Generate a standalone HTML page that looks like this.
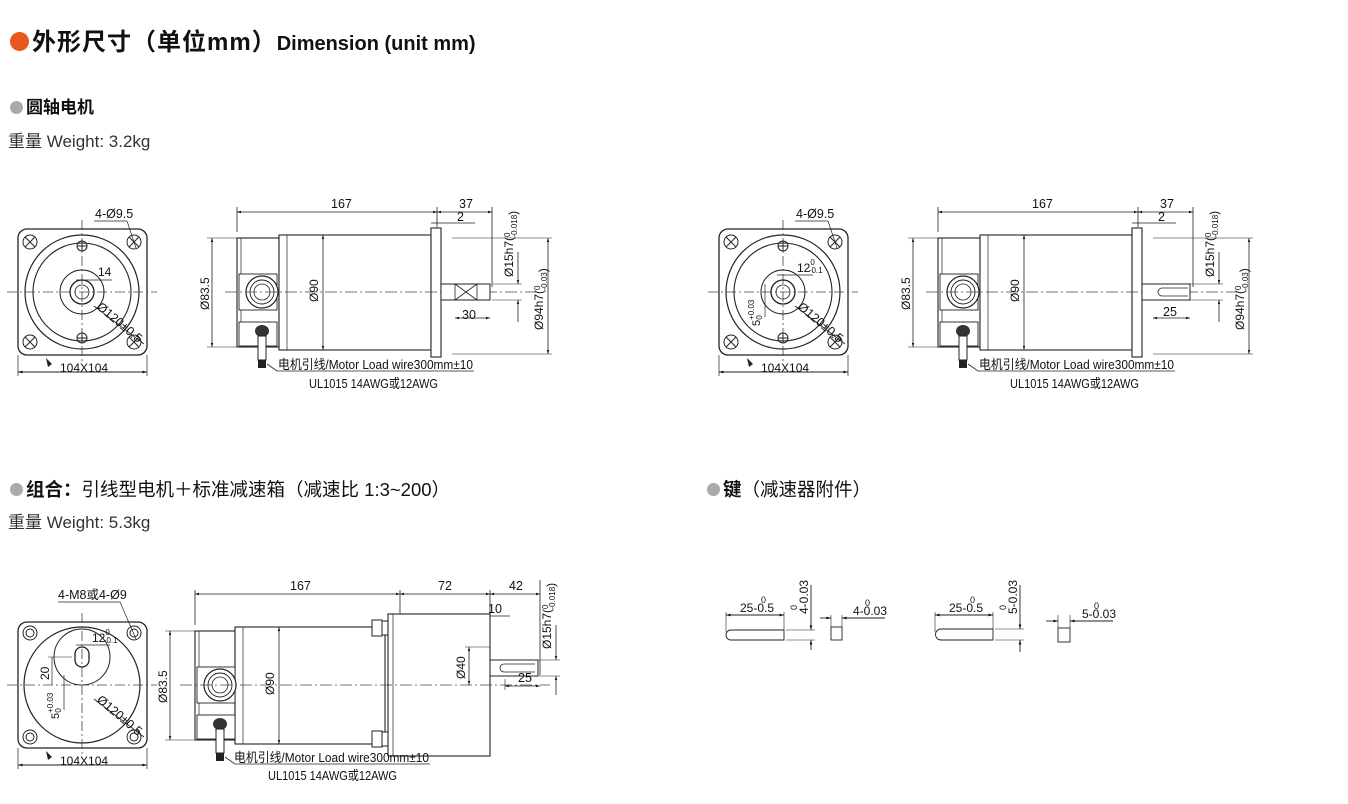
<!DOCTYPE html>
<html><head><meta charset="utf-8">
<style>
html,body{margin:0;padding:0;background:#fff;}
body{width:1348px;height:804px;position:relative;overflow:hidden;font-family:"Liberation Sans","Noto Sans CJK SC",sans-serif;color:#111;}
.t{position:absolute;white-space:nowrap;}
.d{display:inline-block;border-radius:50%;vertical-align:middle;}
svg{position:absolute;left:0;top:0;}
svg text{font-family:"Liberation Sans Narrow","Liberation Sans","Noto Sans CJK SC",sans-serif;fill:#111;}
</style></head><body>
<div class="t" style="left:10px;top:22px;font-size:24px;font-weight:bold;letter-spacing:1px;"><span class="d" style="width:19px;height:19px;background:#e8581c;margin-right:3px;margin-top:-4px"></span>外形尺寸（单位mm）<span style="font-size:20px;letter-spacing:0;">Dimension (unit mm)</span></div>
<div class="t" style="left:10px;top:93px;font-size:17px;font-weight:bold;"><span class="d" style="width:13px;height:13px;background:#aaa;margin-right:3px;margin-top:-3px"></span>圆轴电机</div>
<div class="t" style="left:8px;top:127px;font-size:17px;color:#333;">重量 Weight: 3.2kg</div>
<div class="t" style="left:10px;top:476px;font-size:18.5px;"><b><span class="d" style="width:13px;height:13px;background:#aaa;margin-right:3px;margin-top:-3px"></span>组合：</b>引线型电机＋标准减速箱（减速比 1:3~200）</div>
<div class="t" style="left:8px;top:508px;font-size:17px;color:#333;">重量 Weight: 5.3kg</div>
<div class="t" style="left:707px;top:476px;font-size:18.5px;"><b><span class="d" style="width:13px;height:13px;background:#aaa;margin-right:3px;margin-top:-3px"></span>键</b>（减速器附件）</div>

<svg width="1348" height="804" viewBox="0 0 1348 804">
<defs>
<marker id="a" viewBox="0 0 10 10" refX="10" refY="5" markerWidth="5" markerHeight="5" orient="auto-start-reverse"><path d="M0,2 L10,5 L0,8z" fill="#111"/></marker>
<g id="front">
  <rect x="-64" y="-63" width="129" height="126" rx="9" fill="none" stroke="#222" stroke-width="1.3"/>
  <circle r="57" fill="none" stroke="#222" stroke-width="1.2"/>
  <circle r="49" fill="none" stroke="#222" stroke-width="1.1"/>
  <g fill="none" stroke="#222" stroke-width="1">
   <circle cx="-52" cy="-50" r="7"/><circle cx="52" cy="-50" r="7"/><circle cx="-52" cy="50" r="7"/><circle cx="52" cy="50" r="7"/>
   <path d="M-57,-55 l10,10 M-47,-55 l-10,10 M47,-55 l10,10 M57,-55 l-10,10 M-57,45 l10,10 M-47,45 l-10,10 M47,45 l10,10 M57,45 l-10,10"/>
  </g>
  <line x1="-75" y1="0" x2="75" y2="0" stroke="#444" stroke-width="0.8" stroke-dasharray="10 3 2 3"/>
  <line x1="0" y1="-72" x2="0" y2="72" stroke="#444" stroke-width="0.8" stroke-dasharray="10 3 2 3"/>
  <line x1="-64" y1="80" x2="65" y2="80" stroke="#222" stroke-width="0.9" marker-start="url(#a)" marker-end="url(#a)"/>
  <line x1="-64" y1="63" x2="-64" y2="84" stroke="#222" stroke-width="0.7"/>
  <line x1="65" y1="63" x2="65" y2="84" stroke="#222" stroke-width="0.7"/>
  <text x="-22" y="80" font-size="12">104X104</text>
  <path d="M-36,66 l6,6 l-4,3 z" fill="#222"/>
  <line x1="12" y1="14" x2="62" y2="52" stroke="#222" stroke-width="0.8"/>
  <text x="14" y="16" font-size="12.5" transform="rotate(40 14 16)">Ø120±0.5</text>
</g>
<g id="motor">
  <g stroke="#222" stroke-width="0.8" fill="none">
   <line x1="0" y1="-85" x2="0" y2="-60"/>
   <line x1="200" y1="-85" x2="200" y2="-65"/>
   <line x1="255" y1="-85" x2="255" y2="-5"/>
  </g>
  <line x1="0" y1="-80" x2="200" y2="-80" stroke="#222" stroke-width="0.8" marker-start="url(#a)" marker-end="url(#a)"/>
  <line x1="200" y1="-80" x2="255" y2="-80" stroke="#222" stroke-width="0.8" marker-start="url(#a)" marker-end="url(#a)"/>
  <text x="94" y="-84" font-size="12.5">167</text>
  <text x="222" y="-84" font-size="12.5">37</text>
  <line x1="194" y1="-69" x2="238" y2="-69" stroke="#222" stroke-width="0.7"/>
  <text x="220" y="-71" font-size="12.5">2</text>
  <line x1="-30" y1="-54" x2="0" y2="-54" stroke="#222" stroke-width="0.6"/>
  <line x1="-30" y1="55" x2="0" y2="55" stroke="#222" stroke-width="0.6"/>
  <line x1="-25" y1="-54" x2="-25" y2="55" stroke="#222" stroke-width="0.8" marker-start="url(#a)" marker-end="url(#a)"/>
  <text x="-28" y="18" font-size="12" transform="rotate(-90 -28 18)">Ø83.5</text>
  <rect x="0" y="-54" width="42" height="109" fill="#fff" stroke="#222" stroke-width="1.1"/>
  <line x1="4" y1="-54" x2="4" y2="55" stroke="#222" stroke-width="0.7"/>
  <rect x="42" y="-57" width="152" height="115" fill="#fff" stroke="#222" stroke-width="1.1"/>
  <line x1="50" y1="-57" x2="50" y2="58" stroke="#222" stroke-width="0.7"/>
  <line x1="86" y1="-57" x2="86" y2="58" stroke="#222" stroke-width="0.8" marker-start="url(#a)" marker-end="url(#a)"/>
  <text x="81" y="10" font-size="12" transform="rotate(-90 81 10)">Ø90</text>
  <rect x="194" y="-64" width="10" height="129" fill="#fff" stroke="#222" stroke-width="1.1"/>
  <rect x="2" y="-18" width="38" height="36" fill="#fff" stroke="#222" stroke-width="0.9"/>
  <circle cx="25" cy="0" r="16" fill="#fff" stroke="#222" stroke-width="1.2"/>
  <circle cx="25" cy="0" r="12" fill="none" stroke="#222" stroke-width="0.9"/>
  <circle cx="25" cy="0" r="8" fill="none" stroke="#222" stroke-width="0.8"/>
  <rect x="2" y="30" width="38" height="24" fill="#fff" stroke="#222" stroke-width="0.9"/>
  <ellipse cx="25" cy="39" rx="7" ry="6" fill="#333"/>
  <rect x="21" y="44" width="8" height="24" fill="#fff" stroke="#222" stroke-width="1"/>
  <rect x="21" y="68" width="8" height="8" fill="#222"/>
  <line x1="-12" y1="0" x2="300" y2="0" stroke="#444" stroke-width="0.7" stroke-dasharray="12 3 2 3"/>
  <path d="M30,72 L40,79 L237,79" fill="none" stroke="#222" stroke-width="0.8"/>
  <text x="41" y="77" font-size="13" textLength="195" lengthAdjust="spacingAndGlyphs">电机引线/Motor Load wire300mm±10</text>
  <text x="72" y="96" font-size="13" textLength="129" lengthAdjust="spacingAndGlyphs">UL1015 14AWG或12AWG</text>
</g>
</defs>

<use href="#front" x="82" y="292"/>
<g transform="translate(82,292)">
 <circle r="22" fill="none" stroke="#222" stroke-width="1"/>
 <circle r="12" fill="none" stroke="#222" stroke-width="1.3"/>
 <circle r="7" fill="none" stroke="#222" stroke-width="0.8"/>
 <g fill="none" stroke="#222"><circle cx="0" cy="-46" r="5"/><path d="M-5,-46 h10 M0,-51 v10"/><circle cx="0" cy="46" r="5"/><path d="M-5,46 h10 M0,41 v10"/></g>
 <line x1="-6" y1="-12" x2="30" y2="-12" stroke="#222" stroke-width="0.7"/>
 <text x="16" y="-16" font-size="12">14</text>
 <text x="13" y="-74" font-size="12.5">4-Ø9.5</text>
 <line x1="12" y1="-71" x2="45" y2="-71" stroke="#222" stroke-width="0.7"/>
 <line x1="45" y1="-71" x2="54" y2="-44" stroke="#222" stroke-width="0.7"/>
</g>
<use href="#motor" x="237" y="292"/>
<g transform="translate(237,292)">
 <rect x="204" y="-8" width="49" height="16" fill="#fff" stroke="#222" stroke-width="1"/>
 <path d="M218,-8 L240,8 M218,8 L240,-8 M218,-8 V8 M240,-8 V8" stroke="#222" stroke-width="0.8" fill="none"/>
 <line x1="218" y1="26" x2="253" y2="26" stroke="#222" stroke-width="0.8" marker-start="url(#a)" marker-end="url(#a)"/>
 <text x="225" y="27" font-size="12.5">30</text>
 <line x1="255" y1="-8" x2="285" y2="-8" stroke="#222" stroke-width="0.6"/>
 <line x1="255" y1="8" x2="285" y2="8" stroke="#222" stroke-width="0.6"/>
 <line x1="281" y1="-40" x2="281" y2="-8" stroke="#222" stroke-width="0.8" marker-end="url(#a)"/>
 <line x1="281" y1="30" x2="281" y2="8" stroke="#222" stroke-width="0.8" marker-end="url(#a)"/>
 <text x="276" y="-15" font-size="12" transform="rotate(-90 276 -15)">Ø15h7(<tspan font-size="8" dy="-3">0</tspan><tspan font-size="8" dx="-5" dy="7">-0.018</tspan>)</text>
 <line x1="215" y1="-54" x2="315" y2="-54" stroke="#222" stroke-width="0.6"/>
 <line x1="215" y1="62" x2="315" y2="62" stroke="#222" stroke-width="0.6"/>
 <line x1="311" y1="-54" x2="311" y2="62" stroke="#222" stroke-width="0.8" marker-start="url(#a)" marker-end="url(#a)"/>
 <text x="306" y="38" font-size="12" transform="rotate(-90 306 38)">Ø94h7(<tspan font-size="8" dy="-3">0</tspan><tspan font-size="8" dx="-5" dy="7">-0.03</tspan>)</text>
</g>

<use href="#front" x="783" y="292"/>
<g transform="translate(783,292)">
 <circle r="22" fill="none" stroke="#222" stroke-width="1"/>
 <circle r="12" fill="none" stroke="#222" stroke-width="1.3"/>
 <circle r="7" fill="none" stroke="#222" stroke-width="0.8"/>
 <g fill="none" stroke="#222"><circle cx="0" cy="-46" r="5"/><path d="M-5,-46 h10 M0,-51 v10"/><circle cx="0" cy="46" r="5"/><path d="M-5,46 h10 M0,41 v10"/></g>
 <line x1="-6" y1="-17" x2="30" y2="-17" stroke="#222" stroke-width="0.7"/>
 <text x="14" y="-20" font-size="12">12<tspan font-size="8" dy="-7">0</tspan><tspan font-size="8" dx="-6" dy="8">-0.1</tspan></text>
 <line x1="-18" y1="-8" x2="-18" y2="25" stroke="#222" stroke-width="0.7"/>
 <text x="-23" y="34" font-size="11" transform="rotate(-90 -23 34)">5<tspan font-size="8" dy="-6">+0.03</tspan><tspan font-size="8" dx="-20" dy="8">0</tspan></text>
 <text x="13" y="-74" font-size="12.5">4-Ø9.5</text>
 <line x1="12" y1="-71" x2="45" y2="-71" stroke="#222" stroke-width="0.7"/>
 <line x1="45" y1="-71" x2="54" y2="-44" stroke="#222" stroke-width="0.7"/>
</g>
<use href="#motor" x="938" y="292"/>
<g transform="translate(938,292)">
 <rect x="204" y="-8" width="48" height="16" fill="#fff" stroke="#222" stroke-width="1"/>
 <path d="M224,-4 H250 M224,4 H250 M224,-4 A4,4 0 0 0 224,4" stroke="#222" stroke-width="0.8" fill="none"/>
 <line x1="215" y1="26" x2="252" y2="26" stroke="#222" stroke-width="0.8" marker-start="url(#a)" marker-end="url(#a)"/>
 <text x="225" y="24" font-size="12.5">25</text>
 <line x1="252" y1="-8" x2="285" y2="-8" stroke="#222" stroke-width="0.6"/>
 <line x1="252" y1="8" x2="285" y2="8" stroke="#222" stroke-width="0.6"/>
 <line x1="281" y1="-40" x2="281" y2="-8" stroke="#222" stroke-width="0.8" marker-end="url(#a)"/>
 <line x1="281" y1="30" x2="281" y2="8" stroke="#222" stroke-width="0.8" marker-end="url(#a)"/>
 <text x="276" y="-15" font-size="12" transform="rotate(-90 276 -15)">Ø15h7(<tspan font-size="8" dy="-3">0</tspan><tspan font-size="8" dx="-5" dy="7">-0.018</tspan>)</text>
 <line x1="215" y1="-54" x2="315" y2="-54" stroke="#222" stroke-width="0.6"/>
 <line x1="215" y1="62" x2="315" y2="62" stroke="#222" stroke-width="0.6"/>
 <line x1="311" y1="-54" x2="311" y2="62" stroke="#222" stroke-width="0.8" marker-start="url(#a)" marker-end="url(#a)"/>
 <text x="306" y="38" font-size="12" transform="rotate(-90 306 38)">Ø94h7(<tspan font-size="8" dy="-3">0</tspan><tspan font-size="8" dx="-5" dy="7">-0.03</tspan>)</text>
</g>

<g transform="translate(82,685)" fill="none" stroke="#222">
 <rect x="-64" y="-63" width="129" height="126" rx="9" stroke-width="1.3"/>
 <circle r="58" stroke-width="1.2"/>
 <circle cx="0" cy="-28" r="28" stroke-width="1"/>
 <rect x="-7" y="-38" width="14" height="20" rx="7" stroke-width="1.3"/>
 <g stroke-width="1"><circle cx="-52" cy="-52" r="7"/><circle cx="-52" cy="-52" r="4"/><circle cx="52" cy="-52" r="7"/><circle cx="52" cy="-52" r="4"/><circle cx="-52" cy="52" r="7"/><circle cx="-52" cy="52" r="4"/><circle cx="52" cy="52" r="7"/><circle cx="52" cy="52" r="4"/></g>
 <line x1="-75" y1="0" x2="75" y2="0" stroke="#444" stroke-width="0.8" stroke-dasharray="10 3 2 3"/>
 <line x1="0" y1="-72" x2="0" y2="72" stroke="#444" stroke-width="0.8" stroke-dasharray="10 3 2 3"/>
 <line x1="-64" y1="80" x2="65" y2="80" stroke-width="0.9" marker-start="url(#a)" marker-end="url(#a)"/>
 <line x1="-64" y1="63" x2="-64" y2="84" stroke-width="0.7"/><line x1="65" y1="63" x2="65" y2="84" stroke-width="0.7"/>
 <line x1="-6" y1="-40" x2="28" y2="-40" stroke-width="0.7"/>
 <line x1="-34" y1="-28" x2="-10" y2="-28" stroke-width="0.6"/>
 <line x1="-30" y1="-28" x2="-30" y2="0" stroke-width="0.7"/>
 <line x1="-18" y1="-10" x2="-18" y2="25" stroke-width="0.7"/>
 <line x1="12" y1="14" x2="62" y2="52" stroke-width="0.8"/>
 <path d="M-36,66 l6,6 l-4,3 z" fill="#222" stroke="none"/>
 <line x1="-24" y1="-83" x2="38" y2="-83" stroke-width="0.7"/><line x1="38" y1="-83" x2="54" y2="-46" stroke-width="0.7"/>
</g>
<g transform="translate(82,685)">
 <text x="-22" y="80" font-size="12">104X104</text>
 <text x="14" y="16" font-size="12.5" transform="rotate(40 14 16)">Ø120±0.5</text>
 <text x="-24" y="-86" font-size="12.5">4-M8或4-Ø9</text>
 <text x="10" y="-43" font-size="12">12<tspan font-size="8" dy="-7">0</tspan><tspan font-size="8" dx="-6" dy="8">-0.1</tspan></text>
 <text x="-33" y="-5" font-size="12" transform="rotate(-90 -33 -5)">20</text>
 <text x="-23" y="34" font-size="11" transform="rotate(-90 -23 34)">5<tspan font-size="8" dy="-6">+0.03</tspan><tspan font-size="8" dx="-20" dy="8">0</tspan></text>
</g>

<g transform="translate(195,685)">
 <g stroke="#222" stroke-width="0.8" fill="none">
  <line x1="0" y1="-95" x2="0" y2="-60"/><line x1="205" y1="-95" x2="205" y2="60"/>
  <line x1="295" y1="-95" x2="295" y2="-70"/><line x1="345" y1="-105" x2="345" y2="-10"/>
 </g>
 <line x1="0" y1="-91" x2="205" y2="-91" stroke="#222" stroke-width="0.8" marker-start="url(#a)" marker-end="url(#a)"/>
 <line x1="205" y1="-91" x2="295" y2="-91" stroke="#222" stroke-width="0.8" marker-start="url(#a)" marker-end="url(#a)"/>
 <line x1="295" y1="-91" x2="345" y2="-91" stroke="#222" stroke-width="0.8" marker-start="url(#a)" marker-end="url(#a)"/>
 <text x="95" y="-95" font-size="12.5">167</text>
 <text x="243" y="-95" font-size="12.5">72</text>
 <text x="314" y="-95" font-size="12.5">42</text>
 <line x1="285" y1="-69" x2="315" y2="-69" stroke="#222" stroke-width="0.7"/>
 <text x="293" y="-72" font-size="12.5">10</text>
 <line x1="-30" y1="-54" x2="0" y2="-54" stroke="#222" stroke-width="0.6"/>
 <line x1="-30" y1="55" x2="0" y2="55" stroke="#222" stroke-width="0.6"/>
 <line x1="-25" y1="-54" x2="-25" y2="55" stroke="#222" stroke-width="0.8" marker-start="url(#a)" marker-end="url(#a)"/>
 <text x="-28" y="18" font-size="12" transform="rotate(-90 -28 18)">Ø83.5</text>
 <rect x="0" y="-54" width="40" height="109" fill="#fff" stroke="#222" stroke-width="1.1"/>
 <line x1="4" y1="-54" x2="4" y2="55" stroke="#222" stroke-width="0.7"/>
 <rect x="40" y="-58" width="150" height="117" fill="#fff" stroke="#222" stroke-width="1.1"/>
 <line x1="48" y1="-58" x2="48" y2="59" stroke="#222" stroke-width="0.7"/>
 <line x1="84" y1="-58" x2="84" y2="59" stroke="#222" stroke-width="0.8" marker-start="url(#a)" marker-end="url(#a)"/>
 <text x="79" y="10" font-size="12" transform="rotate(-90 79 10)">Ø90</text>
 <rect x="177" y="-65" width="10" height="16" fill="#fff" stroke="#222"/><rect x="187" y="-64" width="6" height="14" fill="#fff" stroke="#222"/>
 <rect x="177" y="46" width="10" height="16" fill="#fff" stroke="#222"/><rect x="187" y="47" width="6" height="14" fill="#fff" stroke="#222"/>
 <rect x="193" y="-71" width="102" height="142" fill="#fff" stroke="#222" stroke-width="1.1"/>
 <line x1="198" y1="-71" x2="198" y2="71" stroke="#222" stroke-width="0.7"/>
 <line x1="270" y1="-38" x2="295" y2="-38" stroke="#222" stroke-width="0.6"/>
 <line x1="274" y1="-38" x2="274" y2="0" stroke="#222" stroke-width="0.8" marker-start="url(#a)" marker-end="url(#a)"/>
 <text x="270" y="-6" font-size="12" transform="rotate(-90 270 -6)">Ø40</text>
 <rect x="295" y="-25" width="48" height="16" fill="#fff" stroke="#222" stroke-width="1"/>
 <path d="M309,-21 H340 M309,-13 H340 M309,-21 A4,4 0 0 0 309,-13" stroke="#222" stroke-width="0.8" fill="none"/>
 <line x1="310" y1="-6" x2="310" y2="5" stroke="#222" stroke-width="0.6"/>
 <line x1="310" y1="1" x2="345" y2="1" stroke="#222" stroke-width="0.8" marker-start="url(#a)" marker-end="url(#a)"/>
 <text x="323" y="-3" font-size="12.5">25</text>
 <line x1="343" y1="-25" x2="365" y2="-25" stroke="#222" stroke-width="0.6"/>
 <line x1="343" y1="-9" x2="365" y2="-9" stroke="#222" stroke-width="0.6"/>
 <line x1="361" y1="-60" x2="361" y2="-25" stroke="#222" stroke-width="0.8" marker-end="url(#a)"/>
 <line x1="361" y1="10" x2="361" y2="-9" stroke="#222" stroke-width="0.8" marker-end="url(#a)"/>
 <text x="356" y="-36" font-size="12" transform="rotate(-90 356 -36)">Ø15h7(<tspan font-size="8" dy="-3">0</tspan><tspan font-size="8" dx="-5" dy="7">-0.018</tspan>)</text>
 <rect x="2" y="-18" width="38" height="36" fill="#fff" stroke="#222" stroke-width="0.9"/>
 <circle cx="25" cy="0" r="16" fill="#fff" stroke="#222" stroke-width="1.2"/>
 <circle cx="25" cy="0" r="12" fill="none" stroke="#222" stroke-width="0.9"/>
 <circle cx="25" cy="0" r="8" fill="none" stroke="#222" stroke-width="0.8"/>
 <rect x="2" y="30" width="38" height="24" fill="#fff" stroke="#222" stroke-width="0.9"/>
 <ellipse cx="25" cy="39" rx="7" ry="6" fill="#333"/>
 <rect x="21" y="44" width="8" height="24" fill="#fff" stroke="#222" stroke-width="1"/>
 <rect x="21" y="68" width="8" height="8" fill="#222"/>
 <line x1="-15" y1="0" x2="355" y2="0" stroke="#444" stroke-width="0.7" stroke-dasharray="12 3 2 3"/>
 <path d="M30,72 L40,79 L235,79" fill="none" stroke="#222" stroke-width="0.8"/>
 <text x="39" y="77" font-size="13" textLength="195" lengthAdjust="spacingAndGlyphs">电机引线/Motor Load wire300mm±10</text>
 <text x="73" y="95" font-size="13" textLength="129" lengthAdjust="spacingAndGlyphs">UL1015 14AWG或12AWG</text>
</g>

<g stroke="#222" fill="none" stroke-width="0.9">
 <path d="M731,630 H784 V640 H731 A5,5 0 0 1 731,630 Z"/>
 <line x1="726" y1="615" x2="784" y2="615" marker-start="url(#a)" marker-end="url(#a)"/>
 <line x1="726" y1="612" x2="726" y2="632" stroke-width="0.6"/>
 <line x1="784" y1="612" x2="784" y2="630" stroke-width="0.6"/>
 <line x1="786" y1="630" x2="815" y2="630" stroke-width="0.6"/><line x1="786" y1="640" x2="815" y2="640" stroke-width="0.6"/>
 <line x1="811" y1="585" x2="811" y2="630" marker-end="url(#a)"/><line x1="811" y1="650" x2="811" y2="640" marker-end="url(#a)"/>
 <rect x="831" y="627" width="11" height="13"/>
 <line x1="831" y1="615" x2="831" y2="627" stroke-width="0.6"/><line x1="842" y1="615" x2="842" y2="627" stroke-width="0.6"/>
 <line x1="820" y1="618" x2="831" y2="618" marker-end="url(#a)"/><line x1="885" y1="618" x2="842" y2="618" marker-end="url(#a)"/>
 <path d="M941,629 H993 V640 H941 A5.5,5.5 0 0 1 941,629 Z"/>
 <line x1="935" y1="615" x2="993" y2="615" marker-start="url(#a)" marker-end="url(#a)"/>
 <line x1="935" y1="612" x2="935" y2="632" stroke-width="0.6"/>
 <line x1="993" y1="612" x2="993" y2="629" stroke-width="0.6"/>
 <line x1="995" y1="629" x2="1024" y2="629" stroke-width="0.6"/><line x1="995" y1="640" x2="1024" y2="640" stroke-width="0.6"/>
 <line x1="1020" y1="585" x2="1020" y2="629" marker-end="url(#a)"/><line x1="1020" y1="652" x2="1020" y2="640" marker-end="url(#a)"/>
 <rect x="1058" y="628" width="12" height="14"/>
 <line x1="1058" y1="615" x2="1058" y2="628" stroke-width="0.6"/><line x1="1070" y1="615" x2="1070" y2="628" stroke-width="0.6"/>
 <line x1="1046" y1="621" x2="1058" y2="621" marker-end="url(#a)"/><line x1="1113" y1="621" x2="1070" y2="621" marker-end="url(#a)"/>
</g>
<g font-size="12">
 <text x="740" y="612">25-0.5</text><text x="761" y="603" font-size="9">0</text>
 <text x="808" y="614" transform="rotate(-90 808 614)">4-0.03</text><text x="797" y="610" font-size="9" transform="rotate(-90 797 610)">0</text>
 <text x="853" y="615">4-0.03</text><text x="865" y="606" font-size="9">0</text>
 <text x="949" y="612">25-0.5</text><text x="970" y="603" font-size="9">0</text>
 <text x="1017" y="614" transform="rotate(-90 1017 614)">5-0.03</text><text x="1006" y="610" font-size="9" transform="rotate(-90 1006 610)">0</text>
 <text x="1082" y="618">5-0.03</text><text x="1094" y="609" font-size="9">0</text>
</g>
</svg>
</body></html>
